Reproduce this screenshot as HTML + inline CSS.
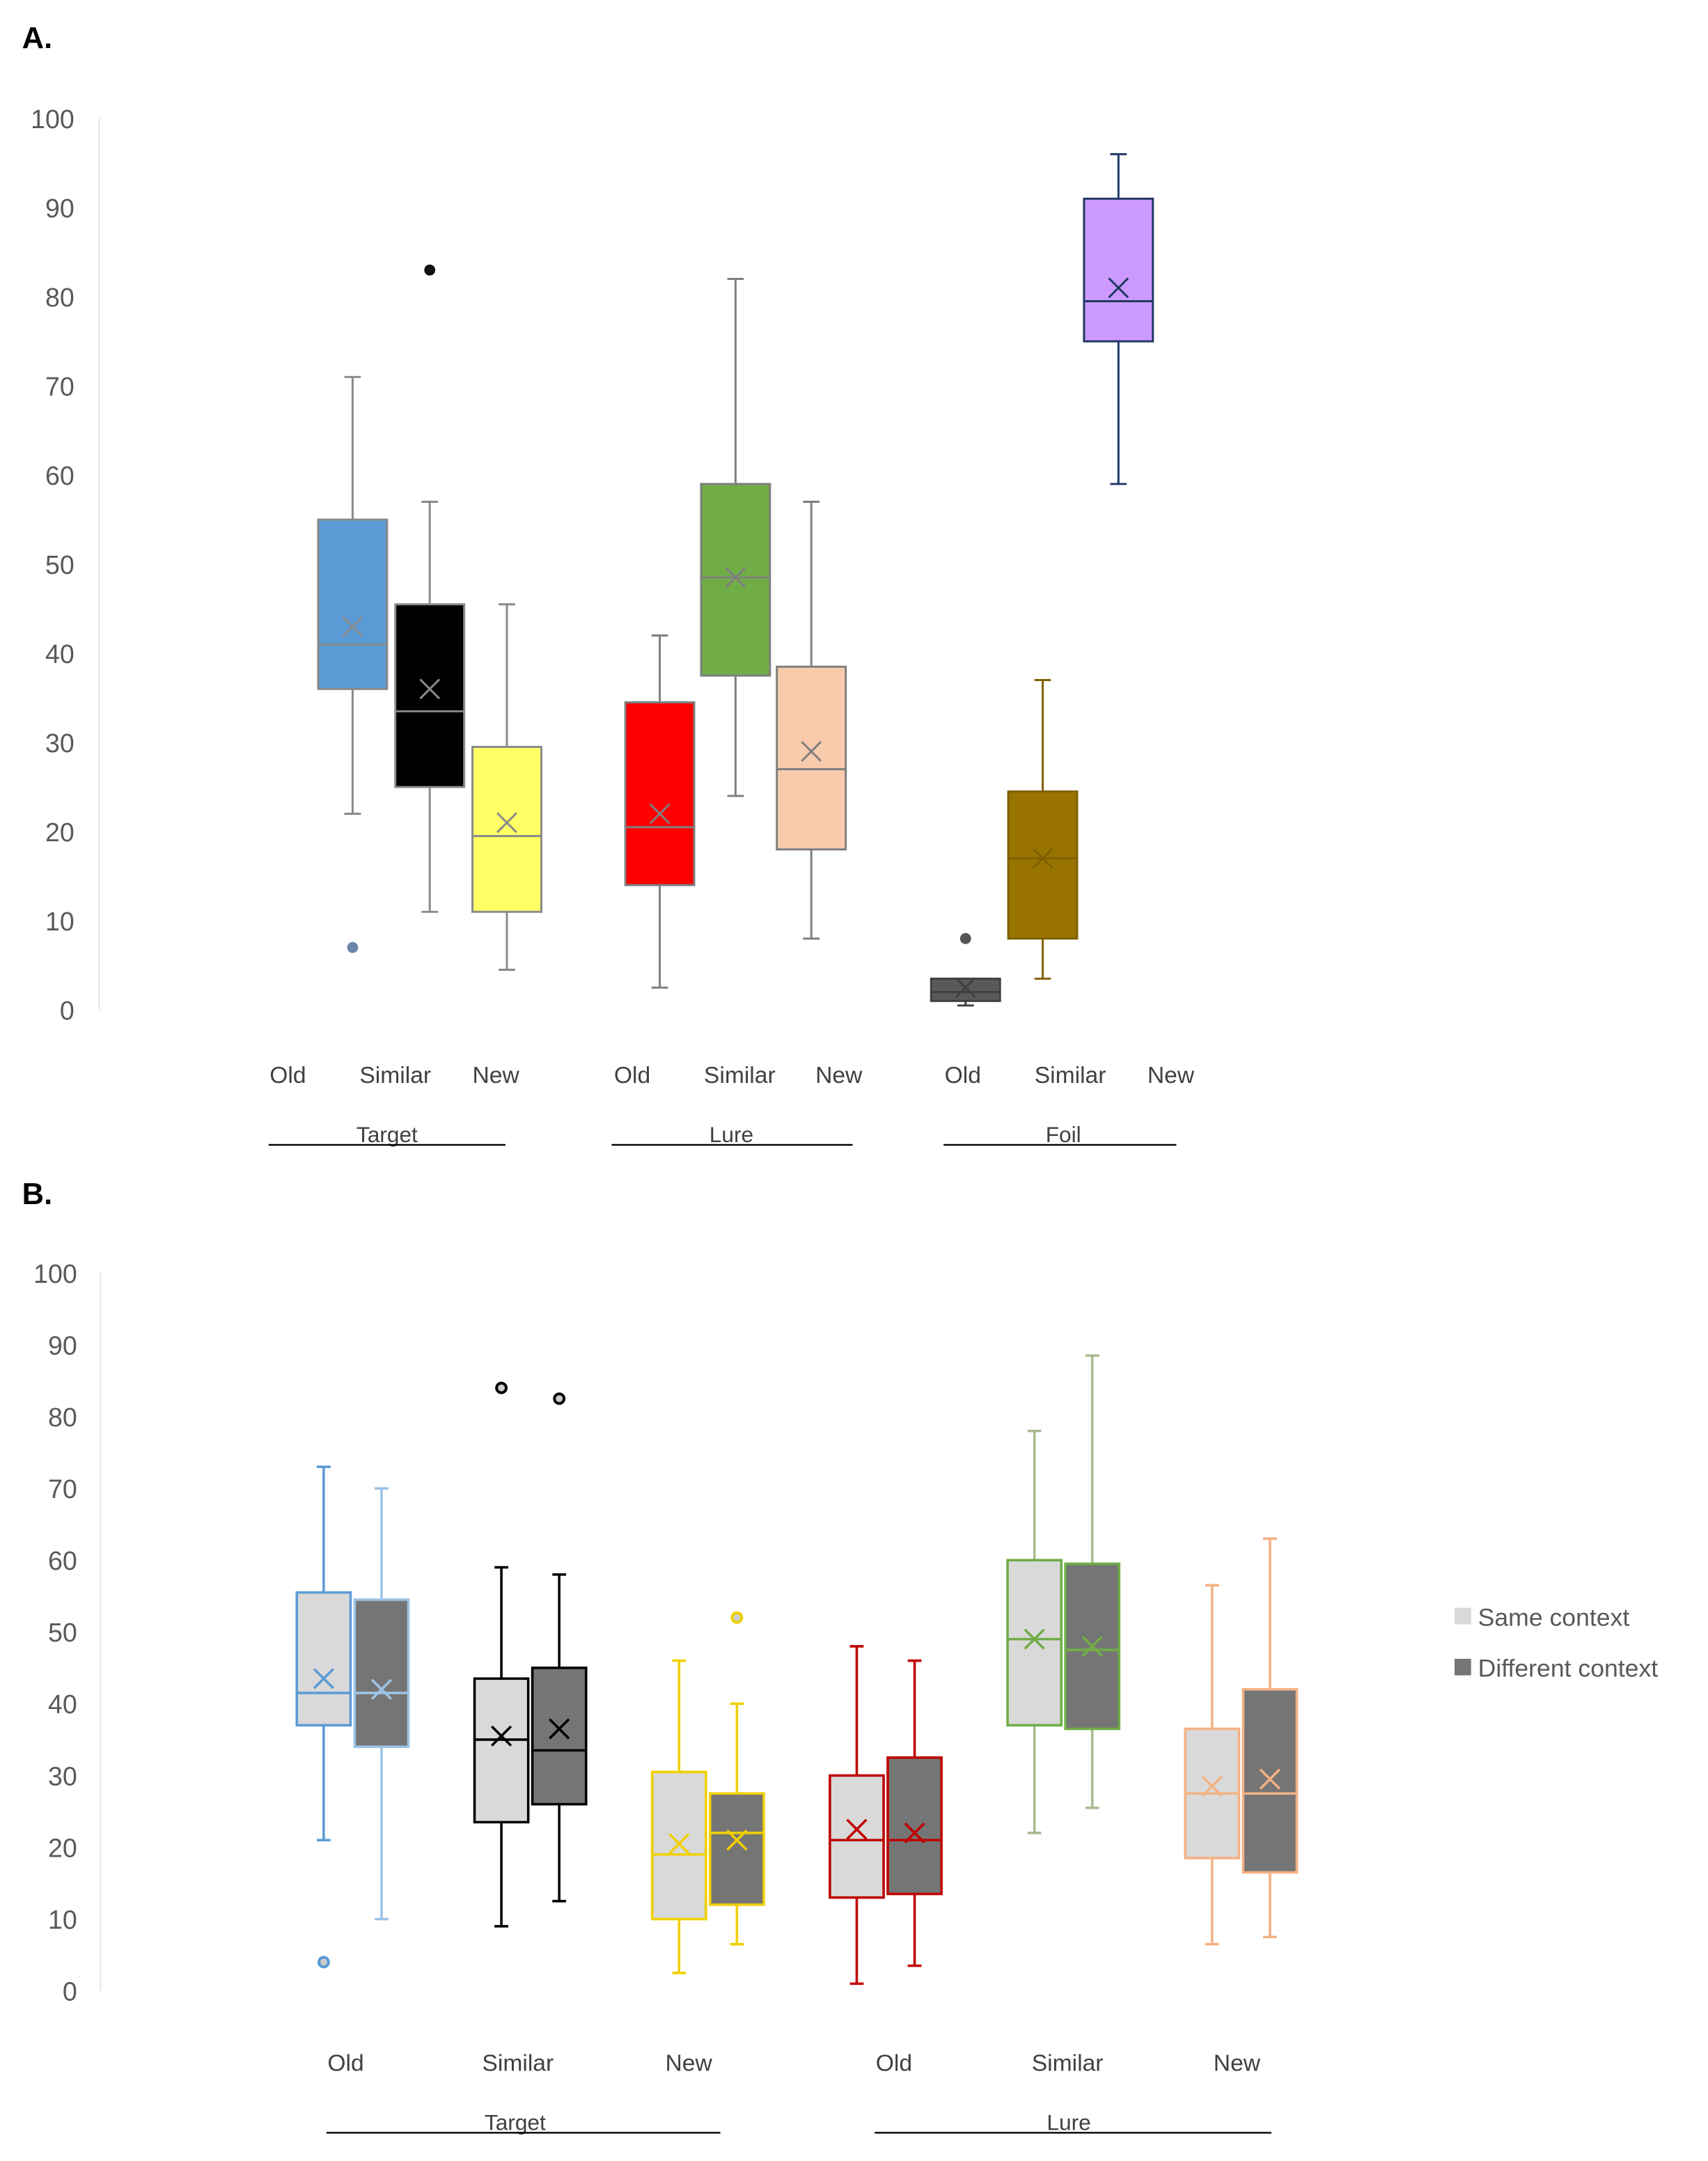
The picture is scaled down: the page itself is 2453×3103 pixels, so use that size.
<!DOCTYPE html>
<html><head><meta charset="utf-8">
<style>
html,body{margin:0;padding:0;background:#fff;}
svg{display:block;font-family:"Liberation Sans","DejaVu Sans",sans-serif;}
</style></head>
<body>
<svg id="fig" width="2453" height="3103" viewBox="0 0 1240 1568.5" preserveAspectRatio="none" xmlns="http://www.w3.org/2000/svg">
<rect width="1240" height="1568.5" fill="#fff"/>
<text x="16" y="35" font-size="22" font-weight="bold">A.</text>
<text x="16" y="874" font-size="22" font-weight="bold">B.</text>
<g id="chartA"></g>
<g id="chartB"></g>
</svg>
<script>
// ---------- Chart A data ----------
const aCategories = ["Old","Similar","New","Old","Similar","New","Old","Similar","New"];
const aGroups = ["Target","Lure","Foil"];
const aMin =    [22, 11, 4.5, 2.5, 24, 8, 0.5, 3.5, 59];
const aQ1 =     [36, 25, 11, 14, 37.5, 18, 1, 8, 75];
const aMedian = [41, 33.5, 19.5, 20.5, 48.5, 27, 2, 17, 79.5];
const aQ3 =     [55, 45.5, 29.5, 34.5, 59, 38.5, 3.5, 24.5, 91];
const aMax =    [71, 57, 45.5, 42, 82, 57, 3.5, 37, 96];
const aMean =   [43, 36, 21, 22, 48.5, 29, 2.5, 17, 81];
const aOutliers = [[7],[83],[],[],[],[],[8],[],[]];
const aTicks = [0,10,20,30,40,50,60,70,80,90,100];
const aFill = ["#5b9bd5","#000000","#ffff66","#ff0000","#70ad47","#f8cbad","#595959","#997300","#cc99ff"];
const aLine = ["#8a8a8a","#8a8a8a","#8a8a8a","#7f7f7f","#7f7f7f","#7f7f7f","#404040","#7f6000","#203864"];
const aOutColor = ["#6a86a8","#111","","","","","#555","",""];

// ---------- Chart B data ----------
const bCategories = ["Old","Similar","New","Old","Similar","New"];
const bGroups = ["Target","Lure"];
const bSeries = ["Same context","Different context"];
const bSameMin =    [21, 9, 2.5, 1, 22, 6.5];
const bSameQ1 =     [37, 23.5, 10, 13, 37, 18.5];
const bSameMedian = [41.5, 35, 19, 21, 49, 27.5];
const bSameQ3 =     [55.5, 43.5, 30.5, 30, 60, 36.5];
const bSameMax =    [73, 59, 46, 48, 78, 56.5];
const bSameMean =   [43.5, 35.5, 20.5, 22.5, 49, 28.5];
const bSameOut =    [[4],[84],[],[],[],[]];
const bDiffMin =    [10, 12.5, 6.5, 3.5, 25.5, 7.5];
const bDiffQ1 =     [34, 26, 12, 13.5, 36.5, 16.5];
const bDiffMedian = [41.5, 33.5, 22, 21, 47.5, 27.5];
const bDiffQ3 =     [54.5, 45, 27.5, 32.5, 59.5, 42];
const bDiffMax =    [70, 58, 40, 46, 88.5, 63];
const bDiffMean =   [42, 36.5, 21, 22, 48, 29.5];
const bDiffOut =    [[],[82.5],[52],[],[],[]];
const bTicks = [0,10,20,30,40,50,60,70,80,90,100];
const bColor = ["#5b9bd5","#000000","#f0d000","#c00000","#70ad47","#f4b183"];
const bColorDiff = ["#9dc3e6","#000000","#f0d000","#c00000","#70ad47","#f4b183"];

const NS = "http://www.w3.org/2000/svg";
function mk(parent, tag, attrs, txt){
  const e = document.createElementNS(NS, tag);
  for (const k in attrs) e.setAttribute(k, attrs[k]);
  if (txt !== undefined) e.textContent = txt;
  parent.appendChild(e);
  return e;
}

// ---------- Chart A ----------
(function(){
  const g = document.getElementById("chartA");
  const y0 = 733, y100 = 86;
  const yA = v => y0 + (y100 - y0) * v / 100;
  const bw = 50;
  const ax = mk(g,"line",{x1:72,y1:yA(100),x2:72,y2:yA(0),stroke:"#e4e4e4","stroke-width":1});
  
  
  aTicks.forEach(t=>{
    const e = mk(g,"text",{x:54,y:yA(t)+7,"text-anchor":"end","font-size":19,fill:"#595959"},String(t));
    
    
  });
  const xs = [256,312,368,479,534,589,701,757,812];
  aCategories.forEach((c,i)=>{
    const x = xs[i];
    const bx = mk(g,"g",{});
    
    
    const lc = aLine[i];
    mk(bx,"line",{x1:x,y1:yA(aMax[i]),x2:x,y2:yA(aQ3[i]),stroke:lc,"stroke-width":1.5});
    mk(bx,"line",{x1:x,y1:yA(aQ1[i]),x2:x,y2:yA(aMin[i]),stroke:lc,"stroke-width":1.5});
    mk(bx,"line",{x1:x-6,y1:yA(aMax[i]),x2:x+6,y2:yA(aMax[i]),stroke:lc,"stroke-width":1.5});
    mk(bx,"line",{x1:x-6,y1:yA(aMin[i]),x2:x+6,y2:yA(aMin[i]),stroke:lc,"stroke-width":1.5});
    mk(bx,"rect",{x:x-bw/2,y:yA(aQ3[i]),width:bw,height:yA(aQ1[i])-yA(aQ3[i]),fill:aFill[i],stroke:lc,"stroke-width":1.5});
    mk(bx,"line",{x1:x-bw/2,y1:yA(aMedian[i]),x2:x+bw/2,y2:yA(aMedian[i]),stroke:lc,"stroke-width":1.5});
    const m = yA(aMean[i]);
    mk(bx,"path",{d:`M${x-7} ${m-7}L${x+7} ${m+7}M${x+7} ${m-7}L${x-7} ${m+7}`,stroke:lc,"stroke-width":1.5,fill:"none"});
    aOutliers[i].forEach(o=>{
      const p = mk(bx,"circle",{cx:x,cy:yA(o),r:4,fill:aOutColor[i]});
      
      
    });
  });
  const catX = [209,287,360,459,537,609,699,777,850];
  aCategories.forEach((c,i)=>{
    const e = mk(g,"text",{x:catX[i],y:786,"text-anchor":"middle","font-size":17,fill:"#404040"},c);
    
    
  });
  const grp = [[195,367,281],[444,619,531],[685,854,772]];
  aGroups.forEach((gn,i)=>{
    const t = mk(g,"text",{x:grp[i][2],y:829,"text-anchor":"middle","font-size":16,fill:"#404040"},gn);
    
    
    const l = mk(g,"line",{x1:grp[i][0],y1:831,x2:grp[i][1],y2:831,stroke:"#000","stroke-width":1.2});
    
    
  });
})();

// ---------- Chart B ----------
(function(){
  const g = document.getElementById("chartB");
  const y0 = 1445, y100 = 924;
  const yB = v => y0 + (y100 - y0) * v / 100;
  const bw = 39;
  const ax = mk(g,"line",{x1:73,y1:yB(100),x2:73,y2:yB(0),stroke:"#e4e4e4","stroke-width":1});
  
  
  bTicks.forEach(t=>{
    const e = mk(g,"text",{x:56,y:yB(t)+7,"text-anchor":"end","font-size":19,fill:"#595959"},String(t));
    
    
  });
  const centers = [256,385,514,643,772,901];
  const labX = [251,376,500,649,775,898];
  function drawBox(parent,x,mn,q1,md,q3,mx,mean,outs,fill,col,wcol,lw){
    mk(parent,"line",{x1:x,y1:yB(mx),x2:x,y2:yB(q3),stroke:wcol,"stroke-width":lw});
    mk(parent,"line",{x1:x,y1:yB(q1),x2:x,y2:yB(mn),stroke:wcol,"stroke-width":lw});
    mk(parent,"line",{x1:x-5,y1:yB(mx),x2:x+5,y2:yB(mx),stroke:wcol,"stroke-width":lw});
    mk(parent,"line",{x1:x-5,y1:yB(mn),x2:x+5,y2:yB(mn),stroke:wcol,"stroke-width":lw});
    mk(parent,"rect",{x:x-bw/2,y:yB(q3),width:bw,height:yB(q1)-yB(q3),fill:fill,stroke:col,"stroke-width":lw});
    mk(parent,"line",{x1:x-bw/2,y1:yB(md),x2:x+bw/2,y2:yB(md),stroke:col,"stroke-width":lw});
    const m = yB(mean);
    mk(parent,"path",{d:`M${x-7} ${m-7}L${x+7} ${m+7}M${x+7} ${m-7}L${x-7} ${m+7}`,stroke:col,"stroke-width":lw,fill:"none"});
    outs.forEach(o=>{
      const p = mk(parent,"circle",{cx:x,cy:yB(o),r:3.5,fill:"#ccc",stroke:col,"stroke-width":2});
      
      
    });
  }
  bCategories.forEach((c,i)=>{
    const cx = centers[i];
    const wc = (i===4) ? "#a9b98f" : bColor[i];
    const gs = mk(g,"g",{});
    
    
    drawBox(gs,cx-21,bSameMin[i],bSameQ1[i],bSameMedian[i],bSameQ3[i],bSameMax[i],bSameMean[i],bSameOut[i],"#d9d9d9",bColor[i],wc,1.8);
    const gd = mk(g,"g",{});
    
    
    drawBox(gd,cx+21,bDiffMin[i],bDiffQ1[i],bDiffMedian[i],bDiffQ3[i],bDiffMax[i],bDiffMean[i],bDiffOut[i],"#757575",bColorDiff[i],(i===4)?"#a9b98f":bColorDiff[i],1.8);
    const e = mk(g,"text",{x:labX[i],y:1503,"text-anchor":"middle","font-size":17,fill:"#404040"},c);
    
    
  });
  const grp = [[237,523,374],[635,923,776]];
  bGroups.forEach((gn,i)=>{
    const t = mk(g,"text",{x:grp[i][2],y:1546,"text-anchor":"middle","font-size":16,fill:"#404040"},gn);
    
    
    const l = mk(g,"line",{x1:grp[i][0],y1:1548,x2:grp[i][1],y2:1548,stroke:"#000","stroke-width":1.2});
    
    
  });
  const legFill = ["#d9d9d9","#757575"];
  bSeries.forEach((s,i)=>{
    const lg = mk(g,"g",{});
    
    
    mk(lg,"rect",{x:1056,y:1167+i*37,width:12,height:12,fill:legFill[i]});
    mk(lg,"text",{x:1073,y:1180+i*37,"font-size":18,fill:"#595959"},s);
  });
})();
</script>
</body></html>
